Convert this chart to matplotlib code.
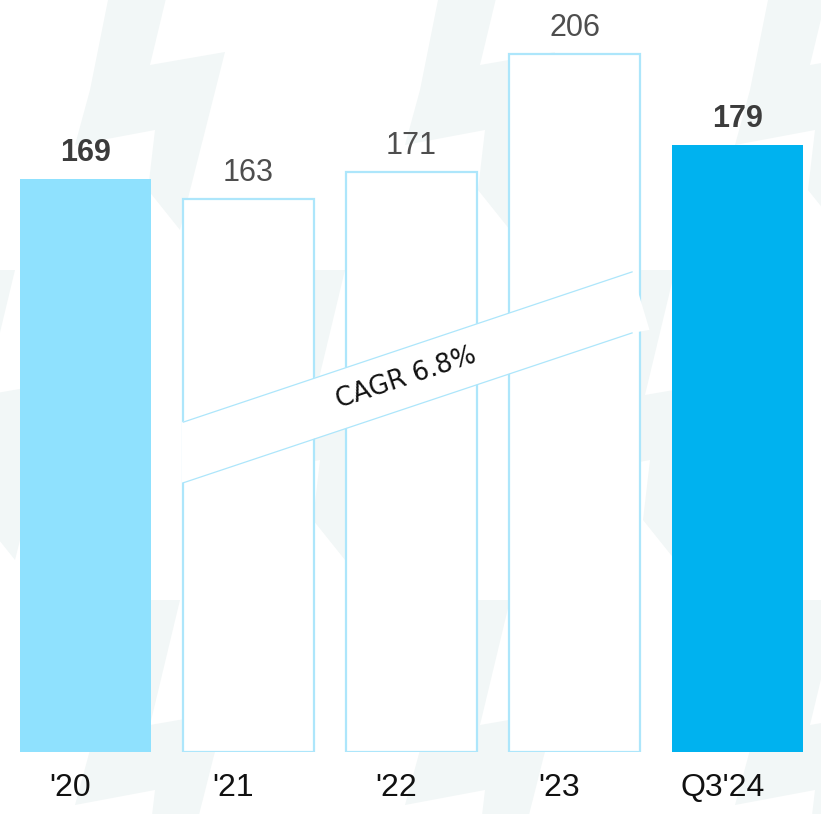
import numpy as np
import matplotlib.pyplot as plt
from matplotlib.patches import Polygon
from matplotlib.transforms import ScaledTranslation

labels = ["'20", "'21", "'22", "'23", "Q3'24"]
values = [169, 163, 171, 206, 179]
highlight = [True, False, False, False, True]
fills = ['#8fe1fe', 'white', 'white', 'white', '#00b2ef']
cagr_text = 'CAGR 6.8%'

edge = '#ade6fb'
W, H = 821, 814

fig = plt.figure(figsize=(W / 100, H / 100), dpi=100)
fig.patch.set_facecolor('white')

# faint lightning watermark in the background
bg = fig.add_axes([0, 0, 1, 1])
bg.set_xlim(0, W)
bg.set_ylim(H, 0)
bg.axis('off')
bolt = np.array([(100, 0), (160, 0), (130, 125), (205, 112), (160, 290),
                 (128, 250), (135, 190), (55, 205), (70, 150)])
for row in range(-1, 4):
    for col in range(-1, 4):
        off = np.array([col * 330 - (row % 2) * 165 + 20, row * 330 - 60])
        bg.add_patch(Polygon(bolt + off, closed=True, fc='#f2f7f7', ec='none'))

ax = fig.add_axes([0, 62 / H, 1, 752 / H])
ax.patch.set_alpha(0)
x = np.arange(len(values))
for i in range(len(values)):
    if fills[i] == 'white':
        ax.bar(x[i], values[i], width=0.8, color='white', edgecolor=edge,
               linewidth=1.6, zorder=2)
    else:
        ax.bar(x[i], values[i], width=0.8, color=fills[i], linewidth=0, zorder=2)
    ax.annotate(str(values[i]), (x[i], values[i]), xytext=(0, 13),
                textcoords='offset points', ha='center', va='baseline',
                fontsize=22, family=['Liberation Sans', 'DejaVu Sans'],
                fontweight='bold' if highlight[i] else 'normal',
                color='#3c3c3c' if highlight[i] else '#4e4e4e')

ax.set_xlim(-0.5245, 4.512)
ax.set_ylim(0, 221.8)
ax.set_xticks(x)
ax.set_xticklabels(labels, fontsize=23, family=['Liberation Sans', 'DejaVu Sans'],
                   color='#111111')
ax.tick_params(axis='x', length=0, pad=15)
ax.set_yticks([])
for s in ax.spines.values():
    s.set_visible(False)
for t in ax.get_xticklabels():
    t.set_transform(t.get_transform() + ScaledTranslation(-0.15, 0, fig.dpi_scale_trans))

# CAGR band across the middle bars
band = [(0.59, 97.3), (3.353, 141.6), (3.46, 124.5), (3.353, 123.6), (0.59, 79.4)]
ax.add_patch(Polygon(band, closed=True, fc='white', ec='none', zorder=3))
ax.plot([0.6, 3.353], [97.3, 141.6], color=edge, lw=0.9, zorder=4)
ax.plot([0.6, 3.353], [79.4, 123.6], color=edge, lw=0.9, zorder=4)
p0 = ax.transData.transform((0.6, 97.3))
p1 = ax.transData.transform((3.353, 141.6))
ang = np.degrees(np.arctan2(p1[1] - p0[1], p1[0] - p0[0]))
ax.text(1.966, 110.3, cagr_text, rotation=ang, rotation_mode='anchor',
        ha='center', va='center', fontsize=18.5, color='#111111', zorder=5)

fig.savefig('out.png', dpi=100)
